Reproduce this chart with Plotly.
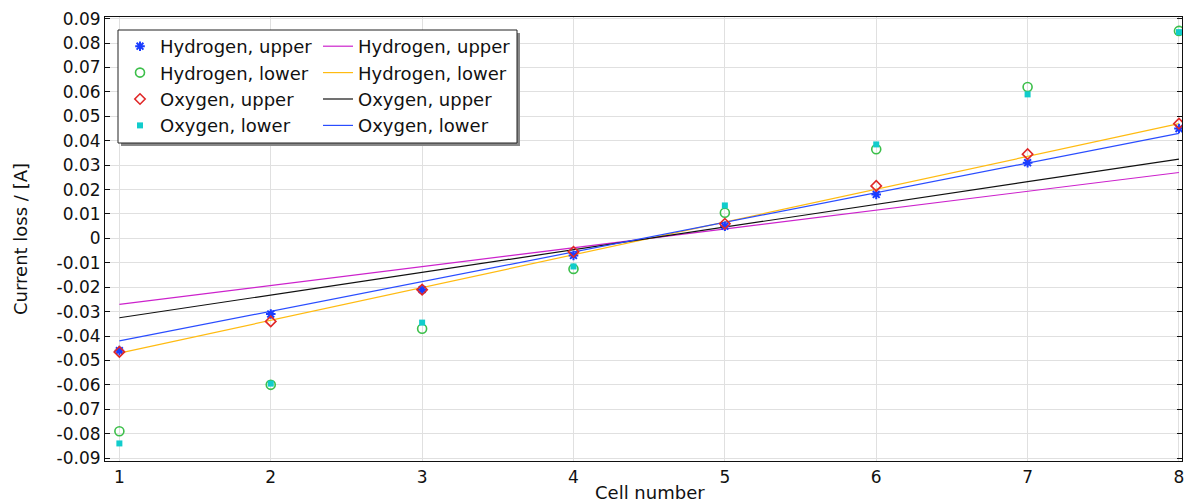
import plotly.graph_objects as go

cells = [1, 2, 3, 4, 5, 6, 7, 8]
h_upper = [-0.046, -0.031, -0.021, -0.007, 0.005, 0.018, 0.031, 0.045]
h_lower = [-0.079, -0.060, -0.037, -0.0125, 0.0105, 0.0365, 0.062, 0.085]
o_upper = [-0.0465, -0.034, -0.021, -0.0055, 0.006, 0.0215, 0.0345, 0.047]
o_lower = [-0.084, -0.0595, -0.0345, -0.0115, 0.0135, 0.0385, 0.059, 0.0845]

fit_x = [1, 8]
fit_h_upper = [-0.027, 0.027]
fit_h_lower = [-0.047, 0.047]
fit_o_upper = [-0.0325, 0.0325]
fit_o_lower = [-0.042, 0.043]

ytick_vals = [-0.09, -0.08, -0.07, -0.06, -0.05, -0.04, -0.03, -0.02, -0.01, 0,
              0.01, 0.02, 0.03, 0.04, 0.05, 0.06, 0.07, 0.08, 0.09]
ytick_text = ["-0.09", "-0.08", "-0.07", "-0.06", "-0.05", "-0.04", "-0.03", "-0.02", "-0.01", "0",
              "0.01", "0.02", "0.03", "0.04", "0.05", "0.06", "0.07", "0.08", "0.09"]

W, H = 1184, 503
ML, MR, MT, MB = 105, 2, 17, 42
PW, PH = W - ML - MR, H - MT - MB
XR = [0.905, 8.02]

def px(x):
    return (x - ML) / PW

def py(y):
    return (H - MB - y) / PH

fig = go.Figure()

line_specs = [
    ("Hydrogen, upper", fit_h_upper, "#cc22cc"),
    ("Hydrogen, lower", fit_h_lower, "#ffbb11"),
    ("Oxygen, upper", fit_o_upper, "#111111"),
    ("Oxygen, lower", fit_o_lower, "#2a4dff"),
]
for name, vals, col in line_specs:
    fig.add_trace(go.Scatter(x=fit_x, y=vals, mode="lines", name=name,
                             line=dict(color=col, width=1.2), legend="legend2"))

mk_specs = [
    ("Hydrogen, upper", h_upper, dict(symbol="asterisk-open", color="#1a3cff", size=8,
                                       line=dict(color="#1a3cff", width=2))),
    ("Hydrogen, lower", h_lower, dict(symbol="circle-open", color="#3cbf4a", size=9,
                                       line=dict(color="#3cbf4a", width=1.6))),
    ("Oxygen, upper", o_upper, dict(symbol="diamond-open", color="#e02828", size=8,
                                     line=dict(color="#e02828", width=1.6))),
    ("Oxygen, lower", o_lower, dict(symbol="square", color="#11cccc", size=6,
                                     line=dict(width=0))),
]
for name, vals, mk in mk_specs:
    fig.add_trace(go.Scatter(x=cells, y=vals, mode="markers", name=name,
                             marker=mk, legend="legend"))

font = dict(family="DejaVu Sans", size=16, color="#111111")

fig.add_shape(type="rect", xref="paper", yref="paper",
              x0=px(121), x1=px(520), y0=py(146), y1=py(33),
              fillcolor="#888888", line=dict(width=0), layer="above")
fig.add_shape(type="rect", xref="paper", yref="paper",
              x0=px(118), x1=px(517), y0=py(143), y1=py(30),
              fillcolor="white", line=dict(color="#222222", width=1), layer="above")

fig.add_annotation(text="Cell number", xref="paper", yref="paper",
                   x=px(650), y=py(492), xanchor="center", yanchor="middle",
                   showarrow=False, font=dict(size=18))

fig.update_layout(
    width=W, height=H,
    margin=dict(l=ML, r=MR, t=MT, b=MB),
    paper_bgcolor="white", plot_bgcolor="white",
    font=font,
    showlegend=True,
    legend=dict(x=px(120), y=py(28), xanchor="left", yanchor="top",
                bgcolor="rgba(0,0,0,0)", borderwidth=0, font=dict(size=18),
                itemwidth=30, tracegroupgap=0),
    legend2=dict(x=px(318), y=py(28), xanchor="left", yanchor="top",
                 bgcolor="rgba(0,0,0,0)", borderwidth=0, font=dict(size=18),
                 itemwidth=30, tracegroupgap=0),
    xaxis=dict(range=XR, tickvals=cells, ticks="outside", ticklen=1,
               tickcolor="rgba(0,0,0,0)", showgrid=True, gridcolor="#e0e0e0",
               showline=True, linecolor="#111111", linewidth=1, mirror=True,
               zeroline=False, automargin=False, ticklabeloverflow="allow",
               tickfont=dict(size=17)),
    xaxis2=dict(range=XR, tickvals=cells, overlaying="x", anchor="y", side="bottom",
                ticks="inside", ticklen=5, tickcolor="#111111", showticklabels=False,
                showgrid=False, showline=False, mirror="allticks", zeroline=False,
                automargin=False),
    yaxis=dict(range=[-0.0912, 0.0907], tickvals=ytick_vals, ticktext=ytick_text,
               ticks="inside", ticklen=5, tickcolor="#111111", showgrid=True,
               gridcolor="#e0e0e0", showline=True, linecolor="#111111", linewidth=1,
               mirror="allticks", zeroline=False, automargin=False,
               ticklabeloverflow="allow",
               title=dict(text="Current loss / [A]", standoff=24, font=dict(size=18)),
               tickfont=dict(size=17)),
)

fig.write_html("out.html")
